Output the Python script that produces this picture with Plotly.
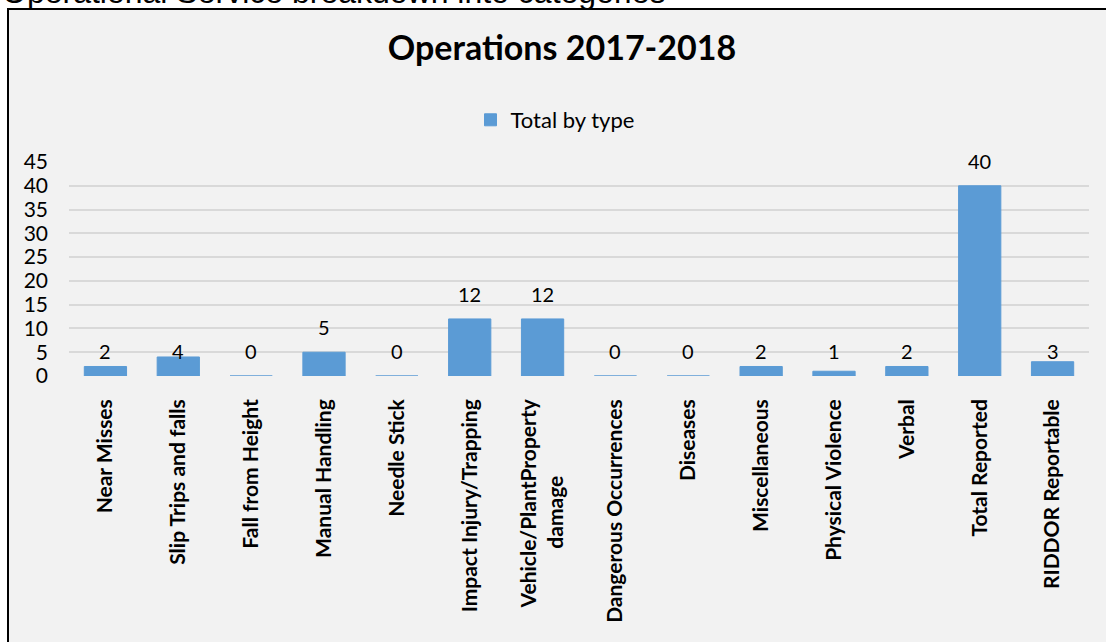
import plotly.graph_objects as go

categories = [
    "Near Misses", "Slip Trips and falls", "Fall from Height", "Manual Handling",
    "Needle Stick", "Impact Injury/Trapping",
    "Vehicle/PlantProperty<br>damage" + "\u00a0" * 15,
    "Dangerous Occurrences", "Diseases", "Miscellaneous", "Physical Violence",
    "Verbal", "Total Reported", "RIDDOR Reportable",
]
totals = [2, 4, 0, 5, 0, 12, 12, 0, 0, 2, 1, 2, 40, 3]
y_ticks = [0, 5, 10, 15, 20, 25, 30, 35, 40, 45]

W, H = 1106, 642
L, R, T, B = 69, 17, 162, 266
pw, ph = W - L - R, H - T - B

def px_x(p):
    return (p - L) / pw

def px_y(p):
    return (H - B - p) / ph

BAR = "#5b9bd5"
FONT = "Lato"

fig = go.Figure()
fig.add_trace(go.Bar(
    x=categories, y=totals, name="Total by type",
    marker=dict(color=BAR, line=dict(color=BAR, width=1)),
    width=0.58,
))

# data labels (small values sit on a common line above the baseline, as in the source)
for c, v in zip(categories, totals):
    base = v if v >= 5 else 0
    fig.add_annotation(x=c, y=base, text=str(v), showarrow=False,
                       xanchor="center", yanchor="middle", yshift=25,
                       font=dict(family=FONT, size=20, color="#000000"))

fig.add_shape(type="rect", xref="paper", yref="paper",
              x0=px_x(8), x1=px_x(1120), y0=px_y(660), y1=px_y(9),
              fillcolor="#f2f2f2", line=dict(color="#000000", width=2),
              layer="below")

fig.add_annotation(text="Operational Service breakdown into categories",
                   xref="paper", yref="paper", x=px_x(0), y=px_y(-8),
                   xanchor="left", yanchor="middle", showarrow=False,
                   font=dict(family="Liberation Sans", size=32, color="#000000"))

fig.update_layout(
    width=W, height=H,
    margin=dict(l=L, r=R, t=T, b=B, pad=0),
    paper_bgcolor="#ffffff", plot_bgcolor="rgba(0,0,0,0)",
    title=dict(text="<b>Operations 2017-2018</b>", x=px_x(562), xref="paper",
               xanchor="center", y=1 - 48 / H, yanchor="middle",
               font=dict(family=FONT, size=34, color="#000000")),
    showlegend=True,
    legend=dict(orientation="h", x=px_x(555), xanchor="center", y=px_y(120),
                yanchor="middle", bgcolor="rgba(0,0,0,0)",
                font=dict(family=FONT, size=22, color="#000000")),
    bargap=0.42,
)
fig.update_yaxes(range=[0, 45], tickvals=y_ticks, showgrid=True,
                 gridcolor="#d9d9d9", gridwidth=1.5, zeroline=False,
                 showline=False, ticks="", ticklabelstandoff=20,
                 tickfont=dict(family=FONT, size=21, color="#000000"))
fig.update_xaxes(showgrid=False, showline=False, zeroline=False, ticks="",
                 tickangle=-90, ticklabelstandoff=18,
                 tickfont=dict(family=FONT, size=21, color="#000000",
                               weight="bold"))

fig.write_html("out.html")
